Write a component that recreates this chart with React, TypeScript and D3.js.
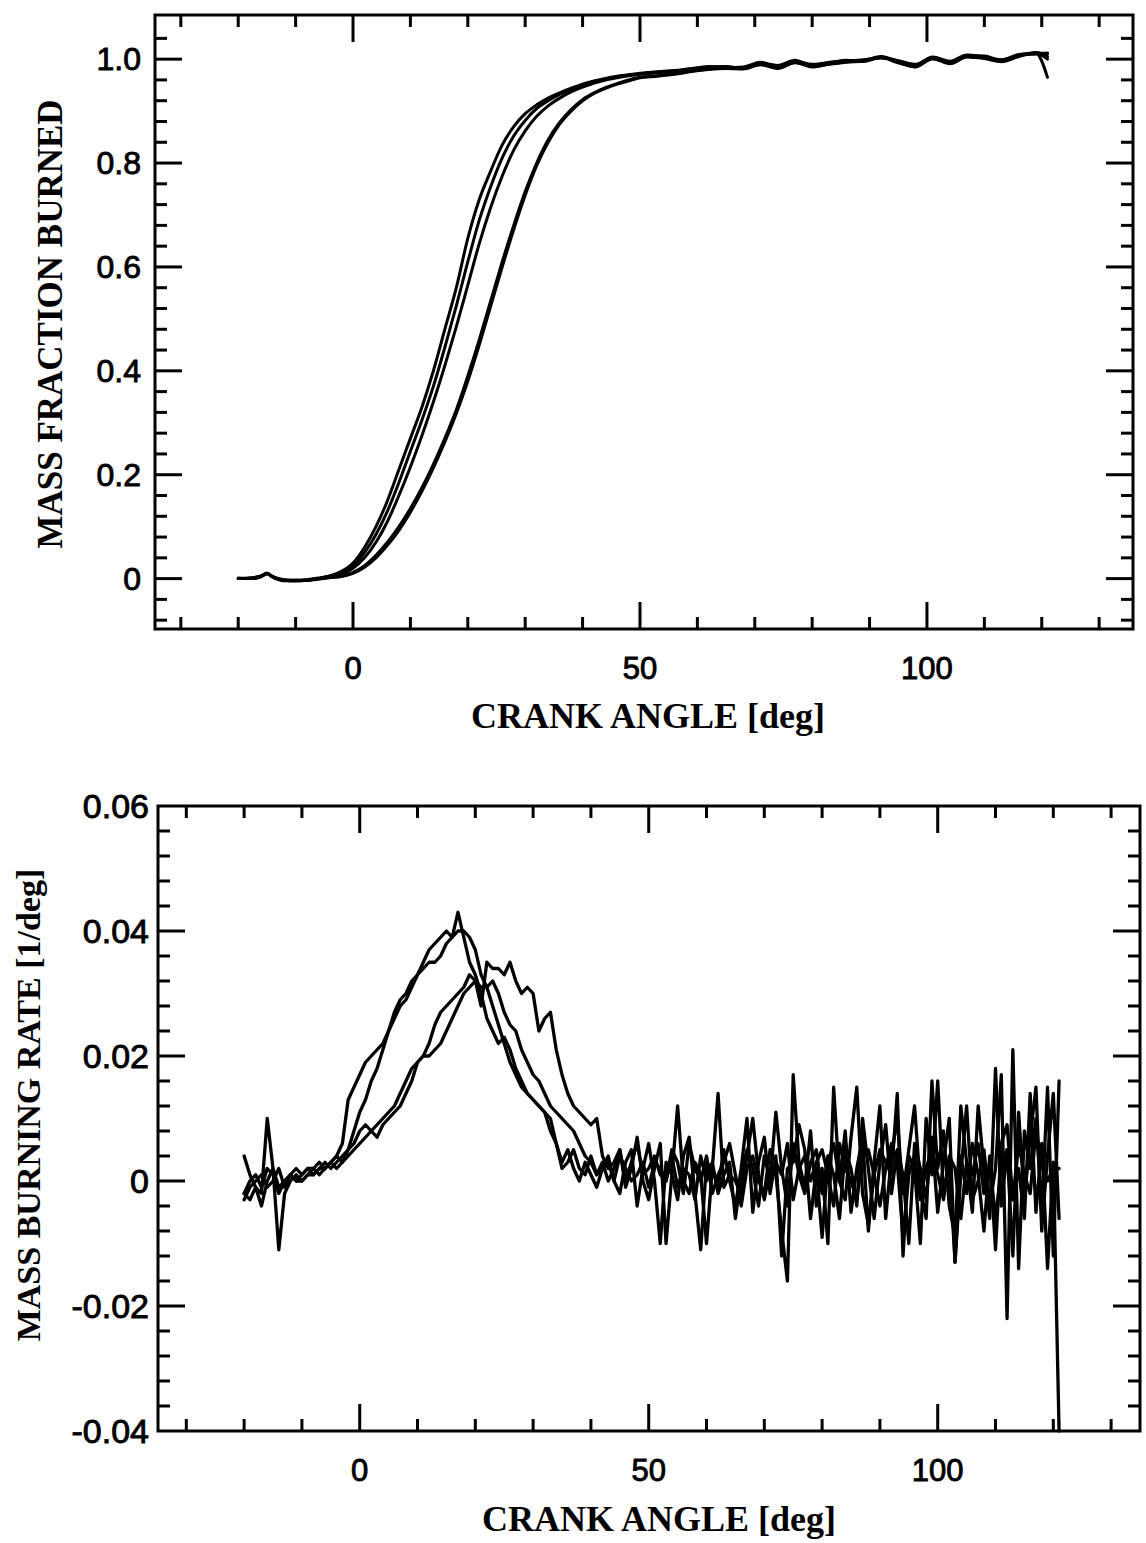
import React from 'react';
import * as d3 from 'd3';

// ---- top panel: mass fraction burned (5 cycles) ----
const burnAngles = [
  -20, -18, -16, -15, -14, -12, -10, -8, -6, -4, -2,
  0, 2, 4, 6, 8, 10, 12, 14, 16, 18, 20, 22, 24, 26, 28, 30, 32, 34, 36, 38, 40, 42, 44, 46, 48, 50,
  53, 56, 59, 62, 65, 68, 71, 74, 77, 80, 83, 86, 89, 92, 95, 98, 101, 104, 107, 110, 113, 116, 119, 121,
];
const burnA = [
  0, 0, 0.004, 0.01, 0.004, -0.003, -0.004, -0.003, 0, 0.005, 0.014,
  0.03, 0.06, 0.1, 0.15, 0.21, 0.27, 0.33, 0.4, 0.48, 0.56, 0.655, 0.73, 0.785, 0.835, 0.87, 0.895, 0.912, 0.925, 0.935, 0.944, 0.952, 0.958, 0.963, 0.967, 0.97, 0.973,
  0.976, 0.978, 0.982, 0.985, 0.984, 0.985, 0.994, 0.986, 0.996, 0.99, 0.993, 0.998, 0.996, 1.003, 0.997, 0.99, 1.004, 0.996, 1.008, 1.004, 0.999, 1.009, 1.012, 1.01,
];
const burnB = [
  0, 0.001, 0.005, 0.011, 0.003, -0.003, -0.004, -0.002, 0.001, 0.005, 0.012,
  0.025, 0.05, 0.085, 0.13, 0.185, 0.245, 0.305, 0.37, 0.445, 0.525, 0.61, 0.69, 0.755, 0.81, 0.852, 0.882, 0.905, 0.92, 0.932, 0.942, 0.95, 0.957, 0.962, 0.966, 0.969, 0.972,
  0.975, 0.977, 0.981, 0.986, 0.985, 0.983, 0.992, 0.988, 0.998, 0.987, 0.992, 0.997, 0.998, 1.005, 0.995, 0.988, 1.003, 0.994, 1.007, 1.006, 0.998, 1.007, 1.01, 1.012,
];
const burnC = [
  0.001, 0, 0.004, 0.009, 0.004, -0.002, -0.003, -0.003, 0, 0.004, 0.009,
  0.02, 0.04, 0.07, 0.11, 0.16, 0.215, 0.275, 0.34, 0.41, 0.485, 0.565, 0.645, 0.715, 0.775, 0.825, 0.862, 0.89, 0.91, 0.925, 0.937, 0.946, 0.954, 0.96, 0.964, 0.968, 0.971,
  0.974, 0.976, 0.98, 0.984, 0.986, 0.982, 0.99, 0.984, 0.995, 0.989, 0.994, 0.996, 0.999, 1.002, 0.996, 0.987, 1.001, 0.993, 1.006, 1.003, 0.997, 1.008, 1.011, 0.965,
];
const burnD = [
  0, 0, 0.004, 0.01, 0.003, -0.004, -0.004, -0.003, -0.001, 0.002, 0.005,
  0.012, 0.025, 0.045, 0.07, 0.1, 0.135, 0.175, 0.22, 0.27, 0.325, 0.39, 0.46, 0.535, 0.61, 0.68, 0.745, 0.8, 0.845, 0.878, 0.903, 0.922, 0.935, 0.945, 0.953, 0.96, 0.965,
  0.968, 0.972, 0.977, 0.981, 0.983, 0.982, 0.99, 0.983, 0.994, 0.985, 0.991, 0.995, 0.997, 1.004, 0.994, 0.985, 1.002, 0.992, 1.005, 1.002, 0.996, 1.006, 1.013, 1.005,
];
const burnE = [
  0, 0.001, 0.005, 0.01, 0.004, -0.003, -0.003, -0.003, -0.001, 0.002, 0.004,
  0.01, 0.022, 0.04, 0.064, 0.093, 0.128, 0.168, 0.213, 0.263, 0.318, 0.38, 0.45, 0.525, 0.6, 0.672, 0.738, 0.795, 0.84, 0.875, 0.9, 0.92, 0.934, 0.944, 0.952, 0.958, 0.964,
  0.967, 0.971, 0.976, 0.98, 0.982, 0.981, 0.989, 0.982, 0.993, 0.986, 0.99, 0.994, 0.996, 1.003, 0.993, 0.986, 1.001, 0.991, 1.004, 1.001, 0.995, 1.005, 1.012, 1.0,
];

// ---- bottom panel: mass burning rate, values in 1e-3 per deg, one per degree from -20 ----
const rateAngles = d3.range(-20, 122);
const rate1 = [
  4, 1, -1, -2, 10, 2, -11, -2, 0, 1,
  0, 1, 2, 1, 2, 3, 2, 3, 5, 8,
  11, 13, 16, 18, 21, 24, 26, 28, 29, 31,
  33, 34, 35, 35, 36, 38, 39, 43, 39, 35,
  33, 30, 26, 24, 22, 23, 21, 18, 16, 14,
  13, 12, 11, 8, 6, 2, 3, 5, 2, 1,
  4, 1, 3, 0, 2, 5, -1, 2, 7, 0,
  -3, 2, 6, -10, 1, 12, 0, -2, 3, 1,
  -10, 2, 14, -1, 1, 0, -2, 4, 10, 1,
  -3, 2, 1, -8, -16, 17, 3, -1, 8, -4,
  2, -10, 15, 0, -3, 7, 15, -2, -7, 1,
  5, 3, 1, 14, -12, 4, 2, -10, 10, 1,
  16, -2, 3, -13, 1, 12, -3, 0, 5, -4,
  2, 17, -22, 21, -14, 8, 2, 10, -5, 15,
  -12, 16,
];
const rate2 = [
  -3, -1, 0, 1, -1, 0, 2, -1, 1, 0,
  0, 1, 1, 2, 2, 3, 4, 6, 13, 15,
  17, 19, 20, 21, 22, 24, 27, 29, 30, 32,
  33, 35, 37, 38, 39, 40, 39, 40, 40, 39,
  37, 33, 31, 28, 25, 22, 19, 17, 15, 14,
  13, 12, 11, 10, 6, 3, 5, 2, 0, 3,
  1, -1, 2, 4, 0, -2, 3, 5, -4, 2,
  6, 0, -10, 3, 1, -3, 4, 7, -2, -11,
  3, 2, -1, 5, 0, -4, 2, 10, -5, 3,
  7, -2, 4, -12, 2, 3, 9, 5, -6, 2,
  -9, 3, 6, 0, 8, -5, 2, 7, -8, 3,
  12, -6, 4, 10, -2, 5, 12, -1, -6, 16,
  2, 8, -4, -9, 12, 3, -5, 12, 2, -6,
  18, -4, 5, -12, 11, -3, 7, 15, -8, 4,
  14, -6,
];
const rate3 = [
  -2, 0, 1, -1, 2, 1, -2, 0, 1, 2,
  1, 2, 1, 2, 3, 2, 3, 4, 5, 6,
  8, 9, 8, 7, 9, 10, 11, 12, 14, 16,
  19, 20, 22, 25, 27, 28, 29, 30, 31, 33,
  32, 28, 35, 34, 34, 33, 35, 32, 30, 31,
  30, 24, 26, 27, 21, 17, 14, 12, 11, 10,
  9, 10, 4, 2, 3, 5, 0, 3, 6, 1,
  2, 4, 1, 0, 5, 3, -2, 6, 2, 0,
  4, -2, 1, 3, 6, 1, -4, 2, 4, 0,
  -2, 5, 3, 1, 6, -3, 2, 4, 0, 3,
  5, 1, -4, 6, 2, 0, -3, 4, 5, 1,
  -4, 2, 6, 3, -9, 1, 4, -3, 2, 5,
  1, -3, 4, 2, -6, 3, 1, 6, -2, 3,
  -6, 2, 5, -3, 6, 1, -2, 8, 3, 0,
  2, 2,
];
const rate4 = [
  -2, -3, -1, -4, 0, 2, -1, 0, 1, 0,
  1, 2, 2, 3, 2, 3, 4, 3, 4, 5,
  6, 7, 8, 9, 10, 11, 12, 14, 16, 18,
  19, 20, 20, 21, 22, 24, 26, 28, 30, 31,
  32, 31, 31, 32, 30, 27, 25, 24, 21, 19,
  17, 16, 14, 12, 11, 10, 9, 8, 6, 4,
  3, 1, 2, 3, 0, 4, 2, 0, 1, 3,
  -1, 3, 2, 0, 4, -1, 2, 1, -3, 4,
  0, 3, -2, 1, 3, -6, 1, 5, 2, -4,
  4, 0, 11, 2, -4, 6, 1, -2, 3, 5,
  -2, 4, 1, -6, 5, 2, -4, 10, 2, -6,
  3, 9, -2, 5, 1, -10, 6, 2, -3, 7,
  -5, 3, 10, -13, 4, -2, 6, 1, -8, 4,
  -11, 6, 9, -3, 2, -6, 14, -5, 6, -14,
  3, -40,
];

// tick labels
const xTickLabels = [0, 50, 100];
const burnTickValues = [1, 0.8, 0.6, 0.4, 0.2, 0];
const burnTickLabels = ['1.0', '0.8', '0.6', '0.4', '0.2', '0'];
const rateTickValues = [0.06, 0.04, 0.02, 0, -0.02, -0.04];
const rateTickLabels = ['0.06', '0.04', '0.02', '0', '-0.02', '-0.04'];

const serif = '"Liberation Serif", "Times New Roman", serif';
const sans = '"Liberation Sans", Arial, Helvetica, sans-serif';

function Panel({ box, xDomain, yDomain, yTicks, yMajorStep, yLabelVals, yLabels, yLabelX, yLabelSize, xLabelY,
  series, curve, lineWidth, xTitle, xTitleX, xTitleY, yTitle, yTitleX, yTitleY, yTitleSize }) {
  const x = d3.scaleLinear().domain(xDomain).range([box.left, box.right]);
  const y = d3.scaleLinear().domain(yDomain).range([box.bottom, box.top]);
  const line = d3.line<[number, number]>().x(d => x(d[0])).y(d => y(d[1])).curve(curve);
  const minor = 12;
  const major = 27;
  const xTicks = d3.range(-30, 131, 10);
  const isMajorY = (v: number) => Math.abs(v / yMajorStep - Math.round(v / yMajorStep)) < 1e-6;
  const tk = { stroke: '#000', strokeWidth: 3 };

  return (
    <g>
      {series.map((s, i) => (
        <path key={i} d={line(s) || ''} fill="none" stroke="#000" strokeWidth={lineWidth}
          strokeLinejoin="round" strokeLinecap="round" />
      ))}
      <rect x={box.left} y={box.top} width={box.right - box.left} height={box.bottom - box.top}
        fill="none" stroke="#000" strokeWidth={3} />
      {xTicks.map(v => {
        const len = v % 50 === 0 ? major : minor;
        return (
          <g key={'x' + v}>
            <line x1={x(v)} x2={x(v)} y1={box.bottom} y2={box.bottom - len} {...tk} />
            <line x1={x(v)} x2={x(v)} y1={box.top} y2={box.top + len} {...tk} />
          </g>
        );
      })}
      {yTicks.map((v: number, i: number) => {
        const len = isMajorY(v) ? major : minor;
        return (
          <g key={'y' + i}>
            <line x1={box.left} x2={box.left + len} y1={y(v)} y2={y(v)} {...tk} />
            <line x1={box.right} x2={box.right - len} y1={y(v)} y2={y(v)} {...tk} />
          </g>
        );
      })}
      {yLabelVals.map((v: number, i: number) => (
        <text key={'yl' + i} x={yLabelX} y={y(v)} textAnchor="end" dominantBaseline="central"
          fontFamily={sans} fontSize={yLabelSize} fill="#000" stroke="#000" strokeWidth={0.9}>{yLabels[i]}</text>
      ))}
      {xTickLabels.map(v => (
        <text key={'xl' + v} x={x(v)} y={xLabelY} textAnchor="middle" dominantBaseline="central"
          fontFamily={sans} fontSize={31} fill="#000" stroke="#000" strokeWidth={0.9}>{v}</text>
      ))}
      <text x={xTitleX} y={xTitleY} textAnchor="middle" fontFamily={serif}
        fontWeight="bold" fontSize={36} fill="#000">{xTitle}</text>
      <text transform={`translate(${yTitleX},${yTitleY}) rotate(-90)`} textAnchor="middle"
        fontFamily={serif} fontWeight="bold" fontSize={yTitleSize} fill="#000">{yTitle}</text>
    </g>
  );
}

export default function App() {
  const burnSeries = [burnA, burnB, burnC, burnD, burnE].map(vals =>
    burnAngles.map((a, i) => [a, vals[i]] as [number, number]));
  const rateSeries = [rate1, rate2, rate3, rate4].map(vals =>
    rateAngles.map((a, i) => [a, vals[i] / 1000] as [number, number]));

  const burnYTicks = d3.range(-2, 27).map(i => i * 0.04);
  const rateYTicks = d3.range(-9, 15).map(i => i * 0.004);

  return (
    <svg width={1146} height={1543} viewBox="0 0 1146 1543"
      style={{ position: 'absolute', left: 0, top: 0, background: '#fff' }}>
      <rect width={1146} height={1543} fill="#fff" />
      <Panel
        box={{ left: 155, right: 1133, top: 15, bottom: 629 }}
        xDomain={[-34.5, 135.9]}
        yDomain={[-0.097, 1.085]}
        yTicks={burnYTicks}
        yMajorStep={0.2}
        yLabelVals={burnTickValues}
        yLabels={burnTickLabels}
        yLabelX={141}
        yLabelSize={32}
        xLabelY={668}
        series={burnSeries}
        curve={d3.curveMonotoneX}
        lineWidth={3}
        xTitle="CRANK ANGLE [deg]"
        xTitleX={648}
        xTitleY={728}
        yTitle="MASS FRACTION BURNED"
        yTitleX={62}
        yTitleY={324}
        yTitleSize={35}
      />
      <Panel
        box={{ left: 158, right: 1140, top: 806, bottom: 1431 }}
        xDomain={[-34.9, 135]}
        yDomain={[-0.04, 0.06]}
        yTicks={rateYTicks}
        yMajorStep={0.02}
        yLabelVals={rateTickValues}
        yLabels={rateTickLabels}
        yLabelX={149}
        yLabelSize={34}
        xLabelY={1470}
        series={rateSeries}
        curve={d3.curveLinear}
        lineWidth={3.3}
        xTitle="CRANK ANGLE [deg]"
        xTitleX={659}
        xTitleY={1531}
        yTitle="MASS BURNING RATE [1/deg]"
        yTitleX={40}
        yTitleY={1105}
        yTitleSize={34}
      />
    </svg>
  );
}
